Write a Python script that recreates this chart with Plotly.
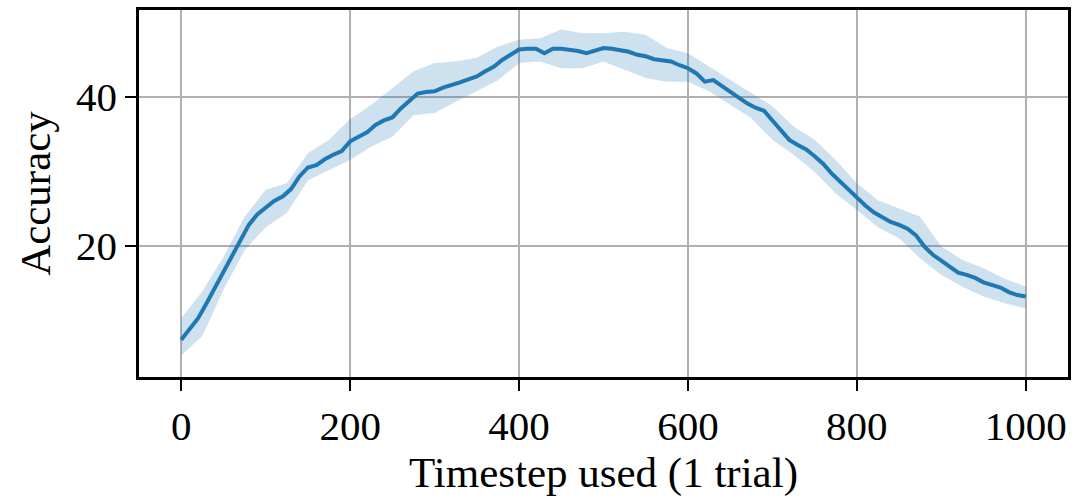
import plotly.graph_objects as go

# Mean accuracy curve (timestep every 10)
timesteps = list(range(0, 1001, 10))
accuracy_mean = [
    7.4, 8.8, 10.3, 12.3, 14.4, 16.4, 18.6, 20.8, 22.8, 24.2,
    25.1, 26.0, 26.6, 27.6, 29.3, 30.5, 30.8, 31.6, 32.2, 32.7,
    34.0, 34.6, 35.2, 36.2, 36.8, 37.2, 38.4, 39.4, 40.4, 40.6,
    40.7, 41.2, 41.5, 41.9, 42.3, 42.7, 43.4, 44.0, 44.9, 45.6,
    46.3, 46.4, 46.4, 45.8, 46.4, 46.4, 46.3, 46.1, 45.8, 46.2,
    46.5, 46.4, 46.2, 46.0, 45.6, 45.4, 45.0, 44.8, 44.7, 44.2,
    43.8, 43.1, 42.0, 42.2, 41.4, 40.6, 39.8, 39.1, 38.5, 38.1,
    36.8, 35.4, 34.2, 33.5, 32.9, 32.0, 31.0, 29.7, 28.6, 27.5,
    26.5, 25.4, 24.5, 23.9, 23.2, 22.8, 22.3, 21.4, 19.9, 18.8,
    18.0, 17.1, 16.4, 16.1, 15.7, 15.1, 14.8, 14.4, 13.8, 13.4,
    13.2,
]

# Shaded band (timestep every 25)
band_t = list(range(0, 1001, 25))
band_lower = [
    5.3, 7.9, 14.1, 19.4, 22.5, 24.4, 28.8, 30.2, 31.5, 33.3,
    34.6, 37.5, 37.8, 39.3, 40.7, 42.2, 44.5, 44.7, 43.8, 43.8,
    44.7, 43.6, 42.5, 42.0, 42.0, 40.7, 38.9, 37.1, 34.2, 32.2,
    29.9, 27.0, 24.8, 22.5, 21.0, 18.3, 16.1, 14.5, 13.2, 12.3,
    11.6,
]
band_upper = [
    10.3, 13.9, 18.5, 23.9, 27.5, 28.4, 32.4, 34.2, 37.0, 38.9,
    41.1, 43.4, 44.5, 44.7, 45.2, 46.7, 47.6, 47.8, 49.0, 48.5,
    48.5, 48.7, 48.3, 46.5, 45.8, 44.0, 42.2, 40.5, 38.7, 36.0,
    34.2, 31.5, 28.4, 26.1, 25.0, 23.9, 19.9, 18.1, 17.0, 15.6,
    14.5,
]

x_ticks = [0, 200, 400, 600, 800, 1000]
y_ticks = [20, 40]

BLUE = "#1f77b4"
FONT = "Liberation Serif"

fig = go.Figure()
fig.add_trace(go.Scatter(x=band_t, y=band_upper, mode="lines",
                         line=dict(width=0, color=BLUE), showlegend=False,
                         hoverinfo="skip"))
fig.add_trace(go.Scatter(x=band_t, y=band_lower, mode="lines",
                         line=dict(width=0, color=BLUE), fill="tonexty",
                         fillcolor="rgba(31,119,180,0.22)", showlegend=False,
                         hoverinfo="skip"))
fig.add_trace(go.Scatter(x=timesteps, y=accuracy_mean, mode="lines",
                         line=dict(width=4, color=BLUE), showlegend=False))

fig.update_layout(
    width=1078, height=499,
    margin=dict(l=139, r=10, t=10, b=122),
    paper_bgcolor="white", plot_bgcolor="white",
    font=dict(family=FONT, size=41, color="black"),
)
fig.update_xaxes(
    range=[-50, 1050], tickvals=x_ticks, ticktext=[str(v) for v in x_ticks],
    showgrid=True, gridcolor="#b0b0b0", gridwidth=2, zeroline=False,
    showline=True, linecolor="black", linewidth=2.5, mirror=True,
    ticks="outside", ticklen=11, tickwidth=2, tickcolor="black",
    tickfont=dict(family=FONT, size=41), automargin=False,
    title=dict(text="Timestep used (1 trial)", font=dict(family=FONT, size=43), standoff=4),
)
fig.update_yaxes(
    range=[2.42, 51.6], tickvals=y_ticks, ticktext=[str(v) for v in y_ticks],
    showgrid=True, gridcolor="#b0b0b0", gridwidth=2, zeroline=False,
    showline=True, linecolor="black", linewidth=2.5, mirror=True,
    ticks="outside", ticklen=11, tickwidth=2, tickcolor="black",
    tickfont=dict(family=FONT, size=41), automargin=False,
    title=dict(text="Accuracy", font=dict(family=FONT, size=43), standoff=12),
)

fig.write_html("out.html", config={"displayModeBar": False},
               post_script="document.body.style.margin='0';document.body.style.overflow='hidden';")
